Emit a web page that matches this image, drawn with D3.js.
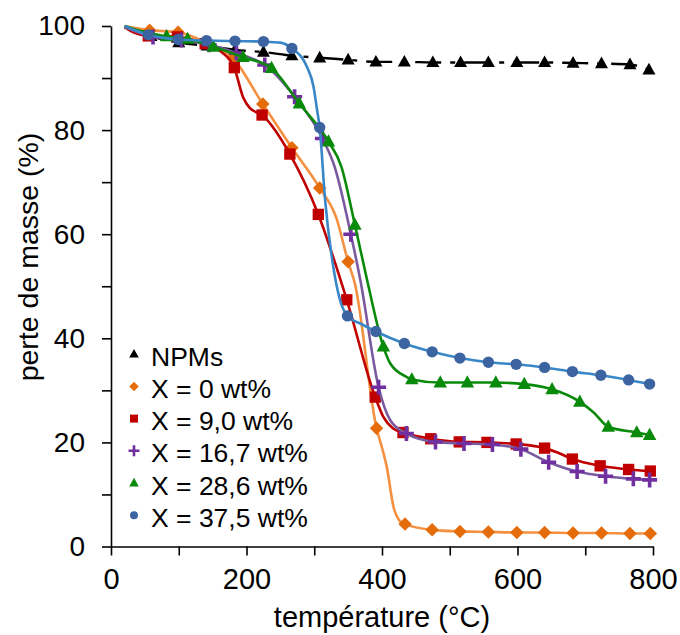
<!DOCTYPE html>
<html>
<head>
<meta charset="utf-8">
<script src="https://cdn.jsdelivr.net/npm/d3@7"></script>
<style>
  html, body { margin: 0; padding: 0; background: #fff; }
  svg { display: block; font-family: "Liberation Sans", Arial, sans-serif; }
</style>
</head>
<body>
<svg id="chart" width="680" height="635"></svg>
<script>
// ---------------- data ----------------
const seriesNames = ["NPMs", "X = 0 wt%", "X = 9,0 wt%", "X = 16,7 wt%", "X = 28,6 wt%", "X = 37,5 wt%"];

// NPMs (black triangles, dashed)
const npmT = [59, 100, 142, 183, 225, 267, 308, 350, 391, 433, 475, 516, 557, 599, 640, 682, 724, 766, 794];
const npmV = [98.0, 96.8, 96.2, 95.4, 95.0, 94.3, 93.9, 93.5, 93.1, 93.1, 93.0, 93.0, 93.0, 93.0, 93.0, 92.9, 92.8, 92.6, 91.6];
const npmLineT = [20];
const npmLineV = [99.8];

// X = 0 wt% (orange diamonds)
const x0T = [57, 99, 141, 180, 224, 267, 308, 350, 392, 434, 474, 515, 557, 599, 640, 682, 724, 766, 796];
const x0V = [99.2, 98.8, 96.8, 93.8, 85.0, 76.6, 68.9, 54.7, 22.7, 4.3, 3.2, 2.9, 2.8, 2.7, 2.7, 2.6, 2.6, 2.5, 2.5];
const x0LineT = [20, 333, 360, 400, 407, 417, 427];
const x0LineV = [100, 63.0, 50.5, 19.0, 15.3, 7.6, 4.8];

// X = 9,0 wt% (red squares)
const x9T = [55, 98, 139, 182, 223, 264, 306, 348, 390, 431, 472, 514, 555, 598, 640, 681, 722, 764, 796];
const x9V = [98.1, 97.9, 96.6, 92.0, 82.9, 75.4, 63.8, 47.4, 28.7, 21.9, 20.7, 20.1, 20.0, 19.7, 18.9, 16.8, 15.5, 14.8, 14.5];
const x9LineT = [20, 35, 163, 195, 205, 402, 416, 660];
const x9LineV = [99.8, 98.7, 95.0, 86.3, 84.2, 24.9, 22.7, 18.0];

// X = 16,7 wt% (purple plus)
const x16T = [62, 104, 145, 185, 227, 271, 312, 354, 395, 436, 479, 521, 563, 605, 646, 688, 730, 771, 795];
const x16V = [97.9, 97.3, 96.4, 94.8, 92.5, 86.4, 78.4, 60.0, 30.6, 21.7, 20.1, 19.8, 19.6, 18.7, 16.2, 14.4, 13.5, 13.0, 12.8];
const x16LineT = [20, 330, 368, 412];
const x16LineV = [99.8, 73.0, 51.2, 24.3];

// X = 28,6 wt% (green triangles)
const x28T = [82, 113, 151, 195, 237, 278, 321, 360, 402, 444, 486, 526, 568, 610, 651, 692, 734, 776, 795];
const x28V = [98.0, 97.5, 96.0, 94.0, 91.9, 85.1, 77.8, 61.8, 38.4, 32.1, 31.5, 31.5, 31.5, 31.2, 30.2, 27.8, 23.0, 21.9, 21.4];
const x28LineT = [20, 40, 340, 378, 412, 436, 712];
const x28LineV = [100, 99.2, 73.0, 51.2, 35.2, 32.6, 25.8];

// X = 37,5 wt% (blue circles)
const x37T = [55, 99, 141, 183, 225, 267, 308, 349, 391, 433, 474, 515, 557, 598, 640, 681, 723, 764, 795];
const x37V = [98.3, 97.4, 97.2, 97.1, 97.0, 95.7, 80.5, 44.3, 41.3, 39.0, 37.4, 36.2, 35.4, 35.0, 34.4, 33.6, 32.9, 32.0, 31.2];
const x37LineT = [20, 250, 289, 299, 304, 316, 328, 338, 370];
const x37LineV = [100, 96.8, 92.2, 88.3, 84.0, 66.6, 53.8, 47.4, 42.7];

const xTicks = [0, 100, 200, 300, 400, 500, 600, 700, 800];
const yTicks = [0, 10, 20, 30, 40, 50, 60, 70, 80, 90, 100];
const xLabelTicks = [0, 200, 400, 600, 800];
const yLabelTicks = [0, 20, 40, 60, 80, 100];

// ---------------- layout / style ----------------
const svg = d3.select("#chart");
const x = d3.scaleLinear().domain([0, 800]).range([111, 653]);
const y = d3.scaleLinear().domain([0, 100]).range([546.5, 26]);

const styles = [
  { line: "#000000", mark: "#000000", shape: "triangle", dash: "26,9,5,9", size: 13 },
  { line: "#F59040", mark: "#E46C0A", shape: "diamond", size: 13.5 },
  { line: "#C00000", mark: "#C00000", shape: "square", size: 13.5 },
  { line: "#7A5A9E", mark: "#7030A0", shape: "plus", size: 15 },
  { line: "#0A8A0A", mark: "#0A8A0A", shape: "triangle", size: 13.5 },
  { line: "#3A87C8", mark: "#3B64A0", shape: "circle", size: 13.5 }
];

const series = [
  [npmT, npmV, npmLineT, npmLineV],
  [x0T, x0V, x0LineT, x0LineV],
  [x9T, x9V, x9LineT, x9LineV],
  [x16T, x16V, x16LineT, x16LineV],
  [x28T, x28V, x28LineT, x28LineV],
  [x37T, x37V, x37LineT, x37LineV]
].map(([mt, mv, lt, lv], i) => {
  const marks = mt.map((t, j) => ({ t, v: mv[j] }));
  const linePts = marks.concat(lt.map((t, j) => ({ t, v: lv[j] }))).sort((a, b) => a.t - b.t);
  return { name: seriesNames[i], marks, linePts, style: styles[i] };
});

// ---------------- axes ----------------
const xAxis = d3.axisBottom(x).tickValues(xTicks)
  .tickFormat(d => xLabelTicks.includes(d) ? d : "")
  .tickSize(9).tickSizeOuter(0).tickPadding(13);
const yAxis = d3.axisLeft(y).tickValues(yTicks)
  .tickFormat(d => yLabelTicks.includes(d) ? d : "")
  .tickSize(9).tickSizeOuter(0).tickPadding(17);

const gx = svg.append("g").attr("transform", `translate(0,${y(0)})`).call(xAxis);
const gy = svg.append("g").attr("transform", `translate(${x(0)},0)`).call(yAxis);
[gx, gy].forEach(g => {
  g.selectAll("path.domain").attr("stroke", "#000").attr("stroke-width", 1.6);
  g.selectAll(".tick line").attr("stroke", "#000").attr("stroke-width", 1.6);
  g.selectAll(".tick text").attr("fill", "#000").attr("font-family", "Liberation Sans, Arial, sans-serif");
});
gx.selectAll(".tick text").attr("font-size", 29);
gy.selectAll(".tick text").attr("font-size", 28);

// axis titles
svg.append("text")
  .attr("x", (x(0) + x(800)) / 2).attr("y", 627)
  .attr("text-anchor", "middle").attr("font-size", 29).attr("fill", "#000")
  .text("température (°C)");
svg.append("text")
  .attr("transform", `translate(38,257) rotate(-90)`)
  .attr("text-anchor", "middle").attr("font-size", 28.5).attr("fill", "#000")
  .text("perte de masse (%)");

// ---------------- marker drawing ----------------
function drawMarker(g, shape, color, cx, cy, s) {
  if (shape === "triangle") {
    const h = s * 0.9;
    g.append("path")
      .attr("d", `M${cx},${cy - h * 0.6}L${cx + s / 2},${cy + h * 0.4}L${cx - s / 2},${cy + h * 0.4}Z`)
      .attr("fill", color);
  } else if (shape === "diamond") {
    const r = s / 2;
    g.append("path")
      .attr("d", `M${cx},${cy - r}L${cx + r},${cy}L${cx},${cy + r}L${cx - r},${cy}Z`)
      .attr("fill", color);
  } else if (shape === "square") {
    const r = s * 0.42;
    g.append("rect").attr("x", cx - r).attr("y", cy - r).attr("width", 2 * r).attr("height", 2 * r)
      .attr("fill", color);
  } else if (shape === "plus") {
    const r = s / 2;
    g.append("path")
      .attr("d", `M${cx - r},${cy}H${cx + r}M${cx},${cy - r}V${cy + r}`)
      .attr("stroke", color).attr("stroke-width", s * 0.24).attr("fill", "none");
  } else if (shape === "circle") {
    g.append("circle").attr("cx", cx).attr("cy", cy).attr("r", s * 0.42).attr("fill", color);
  }
}

// ---------------- lines + markers ----------------
const line = d3.line().x(d => x(d.t)).y(d => y(d.v)).curve(d3.curveMonotoneX);

series.forEach(s => {
  const g = svg.append("g");
  const p = g.append("path").datum(s.linePts)
    .attr("d", line).attr("fill", "none")
    .attr("stroke", s.style.line).attr("stroke-width", 2.6)
    .attr("stroke-linejoin", "round");
  if (s.style.dash) p.attr("stroke-dasharray", s.style.dash).attr("stroke-width", 2.4);
  s.marks.forEach(d => drawMarker(g, s.style.shape, s.style.mark, x(d.t), y(d.v), s.style.size));
});

// ---------------- legend ----------------
const legendY0 = 356.7, legendStep = 32.2;
const legend = svg.append("g");
series.forEach((s, i) => {
  const cy = legendY0 + i * legendStep;
  drawMarker(legend, s.style.shape, s.style.mark, 134, cy - 2.5, s.style.shape === "plus" ? 11 : 9.5);
  legend.append("text")
    .attr("x", 151).attr("y", cy)
    .attr("dominant-baseline", "central")
    .attr("font-size", 26.5).attr("fill", "#000")
    .text(s.name);
});
</script>
</body>
</html>
